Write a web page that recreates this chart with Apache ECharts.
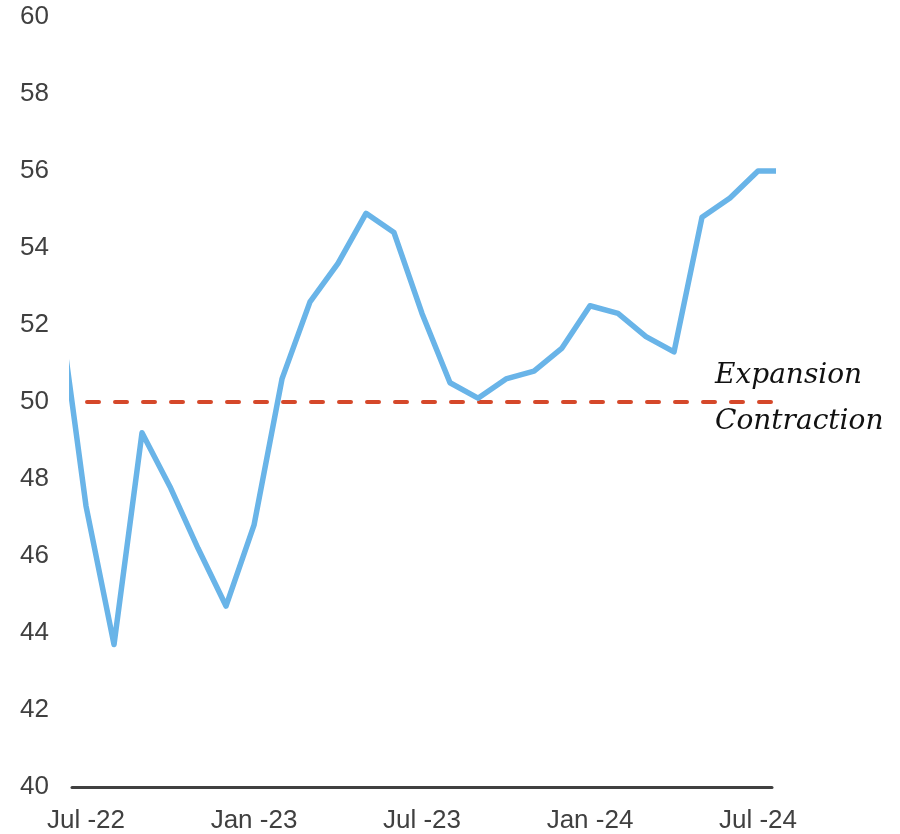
<!DOCTYPE html>
<html>
<head>
<meta charset="utf-8">
<script src="https://cdn.jsdelivr.net/npm/echarts@6/dist/echarts.min.js"></script>
<style>
html,body{margin:0;padding:0;background:#fff;}
#chart{width:900px;height:834px;}
</style>
</head>
<body>
<div id="chart"></div>
<script>
// Months indexed from Jul-22 = 0 (Jun-22 = -1 ... Aug-24 = 25)
const monthIndex = [-1,0,1,2,3,4,5,6,7,8,9,10,11,12,13,14,15,16,17,18,19,20,21,22,23,24,25];
const monthNames = ['Jun -22','Jul -22','Aug -22','Sep -22','Oct -22','Nov -22','Dec -22',
  'Jan -23','Feb -23','Mar -23','Apr -23','May -23','Jun -23','Jul -23','Aug -23','Sep -23',
  'Oct -23','Nov -23','Dec -23','Jan -24','Feb -24','Mar -24','Apr -24','May -24','Jun -24','Jul -24','Aug -24'];
const pmiValues = [52.7,47.3,43.7,49.2,47.8,46.2,44.7,46.8,50.6,52.6,53.6,54.9,54.4,52.3,50.5,50.1,
  50.6,50.8,51.4,52.5,52.3,51.7,51.3,54.8,55.3,56.0,56.0];
const tickLabels = {0:'Jul -22',6:'Jan -23',12:'Jul -23',18:'Jan -24',24:'Jul -24'};
const threshold = 50;
const xRange = [-0.5, 24.5];
const yRange = [40, 60];

const chart = echarts.init(document.getElementById('chart'));
const lineData = monthIndex.map((m,i)=>[m,pmiValues[i]]);
const thresholdData = [[xRange[0],threshold],[xRange[1],threshold]];

chart.setOption({
  animation:false,
  grid:{left:72,right:128,top:17,bottom:46,containLabel:false},
  xAxis:{
    type:'value',min:xRange[0],max:xRange[1],interval:0.5,
    axisLine:{show:true,lineStyle:{color:'#404040',width:3}},
    axisTick:{show:false},splitLine:{show:false},
    axisLabel:{
      margin:21,color:'#404040',fontSize:26,fontFamily:'Liberation Sans, Arial, sans-serif',
      showMinLabel:true,showMaxLabel:true,
      formatter:function(v){const k=Math.round(v*2)/2;return tickLabels[k]!==undefined&&Number.isInteger(k)?tickLabels[k]:'';}
    }
  },
  yAxis:{
    type:'value',min:yRange[0],max:yRange[1],interval:2,
    axisLine:{show:false},axisTick:{show:false},splitLine:{show:false},
    axisLabel:{margin:23,color:'#404040',fontSize:26,fontFamily:'Liberation Sans, Arial, sans-serif'}
  },
  series:[
    {
      type:'line',data:thresholdData,symbol:'none',silent:true,z:1,
      lineStyle:{color:'#d5482a',width:4,type:[12,16],dashOffset:13,cap:'round'}
    },
    {
      type:'line',data:lineData,symbol:'none',clip:true,z:2,
      lineStyle:{color:'#69b4e8',width:5.5,join:'round'}
    }
  ]
});

const yPix = chart.convertToPixel({gridIndex:0},[xRange[1],threshold])[1];
chart.setOption({
  graphic:[
    {type:'text',left:715,top:yPix-40,style:{text:'Expansion',font:'italic 28px "DejaVu Serif", serif',fill:'#111'}},
    {type:'text',left:715,top:yPix+6,style:{text:'Contraction',font:'italic 28px "DejaVu Serif", serif',fill:'#111'}}
  ]
});
</script>
</body>
</html>
